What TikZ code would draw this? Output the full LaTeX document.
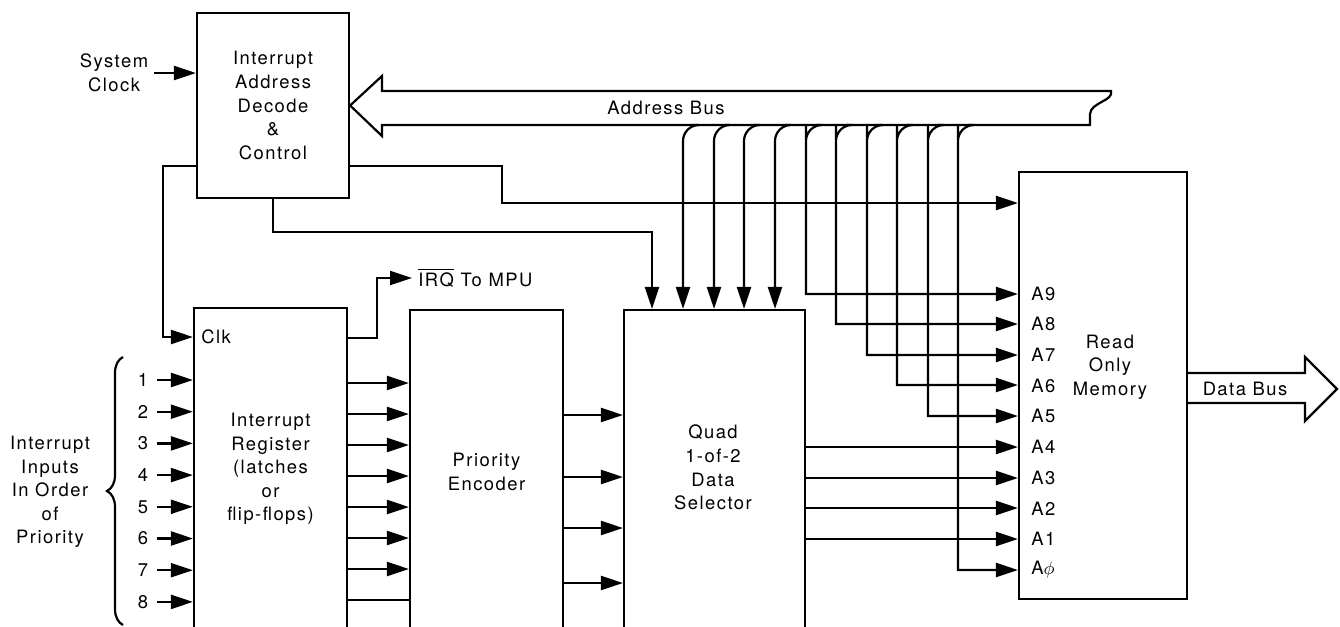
\documentclass[tikz,border=0pt]{standalone}
\usepackage{fontspec}
\setmainfont{TeX Gyre Heros}[LetterSpace=8]
\usetikzlibrary{arrows.meta,decorations.pathreplacing}
\newcommand\txtfont{\fontsize{9.2}{11.8}\selectfont}
\tikzset{
  blk/.style={draw,line width=1.1pt,inner sep=0pt,align=center,font=\txtfont},
  txt/.style={align=center,font=\txtfont,inner sep=0pt},
  ar/.style ={-{Triangle[length=11pt,width=7pt]},line width=1.1pt},
  ln/.style ={line width=1.1pt},
  bus/.style={draw,line width=1.1pt},
}
\begin{document}
\begin{tikzpicture}[x=0.5pt,y=-0.5pt]
  \useasboundingbox (0,0) rectangle (1340,627);
  \clip (0,0) rectangle (1340,627);
  % blocks
  \node[blk,minimum width=76pt,minimum height=92.5pt] (dec) at (273,105.5)
       {Interrupt\\Address\\Decode\\\&\\Control};
  \node[blk,minimum width=76.5pt,minimum height=161pt] (ireg) at (270.5,469)
       {Interrupt\\Register\\(latches\\or\\flip-flops)};
  \node[blk,minimum width=76.5pt,minimum height=162pt] (penc) at (486.5,472) {Priority\\Encoder};
  \node[blk,minimum width=90.5pt,minimum height=170pt] (dsel) at (714.5,480) {};
  \node[txt] (dtxt) at (713,467.5) {Quad\\1-of-2\\Data\\Selector};
  \node[blk,minimum width=84pt,minimum height=213.5pt] (rom) at (1103,385.5) {};
  \node[txt] (rtxt) at (1110,367) {Read\\Only\\Memory};
  % clock and interrupt inputs
  \node[txt] (clk) at (114,73) {System\\Clock};
  \draw[ar] ([xshift=3pt]clk.east) -- (clk.east -| dec.west);
  \foreach \k in {1,...,8}{
    \pgfmathsetmacro\yy{380+31.7*(\k-1)}
    \node[txt] (in\k) at (143,\yy) {\k};
    \draw[ar] ([xshift=4pt]in\k.east) -- (in\k.east -| ireg.west);
  }
  \draw[ln,decorate,decoration={brace,amplitude=8pt}] (123,625) -- (123,357);
  \node[txt] (grp) at (50,492) {Interrupt\\Inputs\\In Order\\of\\Priority};
  \node[txt,anchor=west] (clkin) at (201,337) {Clk};
  \draw[ar] (dec.west |- 0,166) -| (163,337) -- (ireg.west |- 0,337);
  % register -> encoder -> selector
  \foreach \k in {1,...,7}{
    \pgfmathsetmacro\yy{383+31*(\k-1)}
    \draw[ar] (ireg.east |- 0,\yy) -- (penc.west |- 0,\yy);
  }
  \draw[ln] (ireg.east |- 0,600) -- (penc.west |- 0,600);
  \foreach \yy in {415,477,528,583}
    \draw[ar] (penc.east |- 0,\yy) -- (dsel.west |- 0,\yy);
  \node[txt,anchor=west] (irq) at (418,278) {$\overline{\mbox{IRQ}}$ To MPU};
  \draw[ar] (ireg.east |- 0,338) -| (377,278) -- ([xshift=-3pt]irq.west);
  % control lines
  \draw[ar] (dec.south) |- (652,232) -- (652,0 |- dsel.north);
  \draw[ar] (dec.east |- 0,166) -| (502,203) -- (rom.west |- 0,203);
  % address bus
  \draw[bus] (dec.east) -- (382,76) -- (382,91) -- (1111,91)
     .. controls (1114,101) and (1091,102) .. (1090,114) -- (1090,125)
     -- (382,125) -- (382,136) -- cycle;
  \node[txt] (abus) at (666,108) {Address Bus};
  \foreach \x in {683,714,744,775}
    \draw[ar,rounded corners=8] (\x+10,125) -| (\x,0 |- dsel.north);
  \foreach \x/\y in {806/294,836/324,867/355,897/385,928/416,958/570}
    \draw[ar,rounded corners=8] (\x+10,125) -| (\x,140) [sharp corners] |- (rom.west |- 0,\y);
  \foreach \y in {447,478,508,539}
    \draw[ar] (dsel.east |- 0,\y) -- (rom.west |- 0,\y);
  \foreach \n [count=\i from 0] in {9,8,7,6,5,4,3,2,1,$\phi$}
    \node[txt,anchor=west] (pin\i) at (1031,293.5+30.7*\i) {A\n};
  % data bus
  \draw[bus] (rom.east |- 0,373) -- (1305,373) -- (1305,357) -- (1337,389)
     -- (1305,421) -- (1305,403) -- (rom.east |- 0,403);
  \node[txt] (dbus) at (1245,389) {Data Bus};
\end{tikzpicture}
\end{document}
